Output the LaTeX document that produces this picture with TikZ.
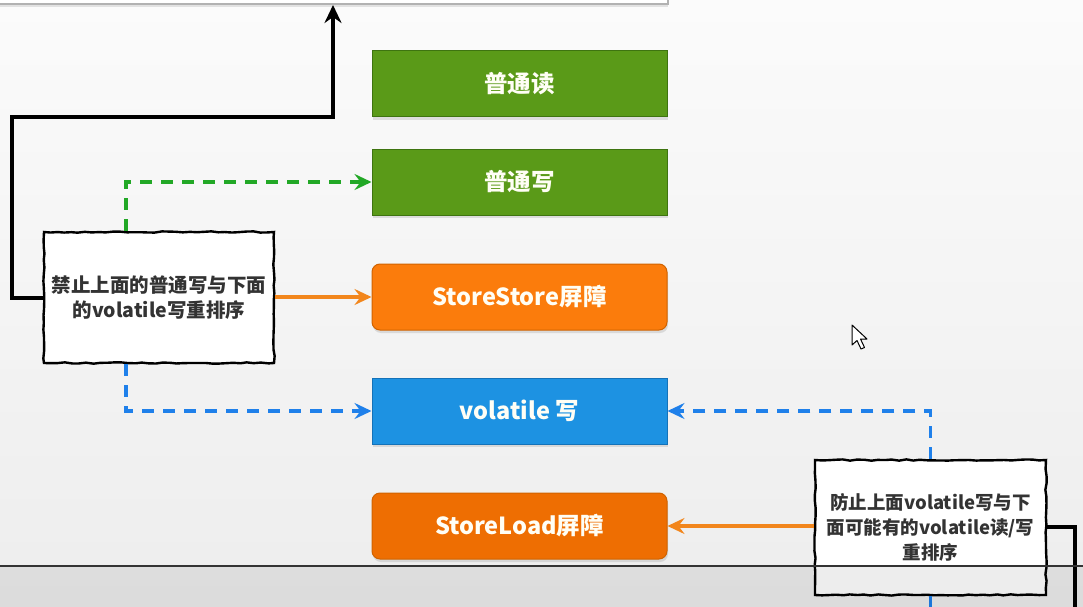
\documentclass[tikz,border=0pt]{standalone}
\usepackage{fontspec}
\setmainfont{Noto Sans CJK SC}
\usetikzlibrary{arrows.meta,shadows,decorations.pathmorphing,calc}
\definecolor{bgtop}{HTML}{FBFBFB}
\definecolor{bgbot}{HTML}{EDEDED}
\definecolor{gfill}{HTML}{5A9A18}
\definecolor{gdraw}{HTML}{3E7410}
\definecolor{ofill}{HTML}{FB7C0C}
\definecolor{ofill2}{HTML}{EE6E02}
\definecolor{odraw}{HTML}{D06300}
\definecolor{bfill}{HTML}{1D92E2}
\definecolor{bdraw}{HTML}{1472B8}
\definecolor{gline}{HTML}{22A826}
\definecolor{bline}{HTML}{1F80EA}
\definecolor{oline}{HTML}{F2861C}
\tikzset{
  opbox/.style={minimum width=295pt, minimum height=66pt, inner sep=0pt,
    text=white!96!yellow, font=\bfseries\fontsize{23.5}{28}\selectfont, line width=1pt,
    drop shadow={opacity=0.22, shadow xshift=1pt, shadow yshift=-3pt}},
  greenbox/.style={opbox, fill=gfill, draw=gdraw},
  orangebox/.style={opbox, fill=ofill, draw=odraw, rounded corners=8pt},
  orangeboxb/.style={opbox, fill=ofill2, draw=odraw, rounded corners=8pt},
  bluebox/.style={opbox, fill=bfill, draw=bdraw},
  note/.style={fill=white, draw=black, line width=2.4pt, inner sep=0pt, align=center,
    font=\bfseries\fontsize{18.5}{25}\selectfont, text=black!80,
    decorate, decoration={random steps, segment length=7pt, amplitude=0.7pt}},
  blackarrow/.style={line width=4pt, -{Stealth[length=18pt, width=17pt, inset=6pt]}},
  gdash/.style={gline, line width=3.6pt, dash pattern=on 12pt off 9pt,
    -{Stealth[length=17pt, width=16pt, inset=6pt]}},
  bdash/.style={bline, line width=3.6pt, dash pattern=on 12pt off 9pt,
    -{Stealth[length=17pt, width=16pt, inset=6pt]}},
  bdashplain/.style={bline, line width=3.6pt, dash pattern=on 12pt off 9pt},
  oarrow/.style={oline, line width=3.2pt, -{Stealth[length=17pt, width=16pt, inset=6pt]}},
}
\begin{document}
\begin{tikzpicture}[x=1pt, y=-1pt]
\useasboundingbox (0,0) rectangle (1083,607);
\shade[top color=bgtop, bottom color=bgbot] (0,0) rectangle (1083,607);

% top box (cut off)
\node[fill=white, draw=black!30, line width=2pt, minimum width=670pt, minimum height=30pt,
  drop shadow={opacity=0.2, shadow xshift=0pt, shadow yshift=-3pt}] (top) at (333,-11) {};

\node[greenbox] (read) at (519.5,84) {普通读};
\node[greenbox] (write) at (519.5,182) {普通写};
\node[orangebox] (ss) at (519.5,297) {StoreStore屏障};
\node[bluebox] (vw) at (519.5,411) {volatile 写};
\node[orangeboxb] (sl) at (519.5,526) {StoreLoad屏障};

\node[note, minimum width=230pt, minimum height=131pt, font=\bfseries\fontsize{19.5}{25}\selectfont] (n1) at (159,297.5)
  {禁止上面的普通写与下面\\的volatile写重排序};
\node[note, minimum width=231pt, minimum height=135pt] (n2) at (930.5,527.5)
  {防止上面volatile写与下\\面可能有的volatile读/写\\重排序};

\coordinate (rb) at (1075,612);
\coordinate (bb) at (930.5,612);

% connectors
\draw[blackarrow] (n1.west) -- (12,297.5) -- (12,117) -- (333,117) -- (top.south);
\draw[gdash] ([xshift=83pt]n1.north west) |- (write.west);
\draw[bdash] ([xshift=83pt]n1.south west) |- (vw.west);
\draw[oarrow] (n1.east |- ss.west) -- (ss.west);
\draw[bdash] (n2.north) |- (vw.east);
\draw[oarrow] (n2.west |- sl.east) -- (sl.east);
\draw[line width=3.5pt] (n2.east |- 0,527) -| (rb);
\draw[bdashplain] (n2.south) -- (bb);

% mouse cursor
\draw[fill=white, line width=1pt, line join=round]
  (852,325) -- (852,345) -- (857,340.5) -- (861,349) -- (864.5,347.5) -- (860.5,339) -- (867,339) -- cycle;

% bottom overlay bar
\fill[black, opacity=0.07] (0,566) rectangle (1083,607);
\draw[line width=2pt, black!80] (0,566) -- (1083,566);
\end{tikzpicture}
\end{document}
